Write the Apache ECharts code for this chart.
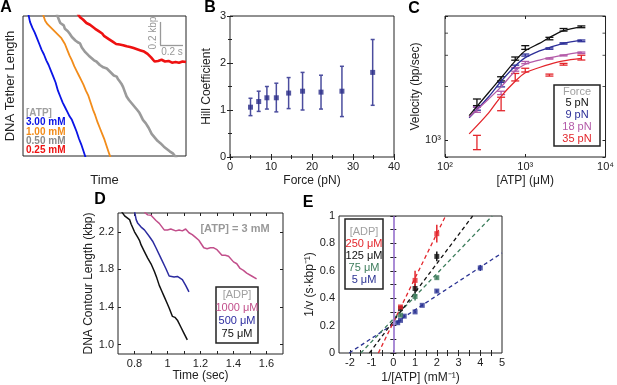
<!DOCTYPE html>
<html>
<head>
<meta charset="utf-8">
<script src="https://cdn.jsdelivr.net/npm/echarts@6/dist/echarts.min.js"></script>
<style>
  html, body { margin: 0; padding: 0; background: #fff; }
  #main { width: 617px; height: 385px; }
</style>
</head>
<body>
<div id="main"></div>
<script>
// ---- A: tether traces, time (s) vs length (kbp) ----
var traceA_3mM = [[0.045,1.22],[0.06,1.15],[0.07,1.14],[0.08,1.10],[0.10,1.06],[0.12,1.01],[0.13,1.00],[0.14,0.96],[0.16,0.91],[0.18,0.87],[0.20,0.82],[0.22,0.78],[0.24,0.73],[0.26,0.68],[0.28,0.63],[0.30,0.56],[0.32,0.51],[0.34,0.46],[0.36,0.42],[0.38,0.38],[0.40,0.34],[0.42,0.31],[0.43,0.30],[0.44,0.26],[0.46,0.21],[0.48,0.15],[0.50,0.10],[0.52,0.04],[0.54,-0.02]];
var traceA_1mM = [[0.17,1.22],[0.19,1.16],[0.21,1.13],[0.24,1.10],[0.27,1.07],[0.30,1.04],[0.33,1.01],[0.36,0.96],[0.38,0.91],[0.40,0.86],[0.42,0.82],[0.44,0.77],[0.46,0.73],[0.48,0.69],[0.50,0.65],[0.52,0.61],[0.54,0.56],[0.56,0.52],[0.58,0.46],[0.60,0.40],[0.62,0.35],[0.64,0.29],[0.66,0.24],[0.68,0.19],[0.70,0.14],[0.72,0.08],[0.74,0.02],[0.755,-0.02]];
var traceA_05mM = [[0.29,1.22],[0.30,1.19],[0.31,1.18],[0.32,1.14],[0.33,1.15],[0.35,1.12],[0.36,1.09],[0.37,1.08],[0.385,1.07],[0.40,1.05],[0.42,1.02],[0.435,1.01],[0.45,0.99],[0.47,0.975],[0.49,0.965],[0.505,0.93],[0.52,0.92],[0.535,0.89],[0.55,0.88],[0.565,0.86],[0.58,0.85],[0.61,0.82],[0.63,0.81],[0.645,0.795],[0.66,0.78],[0.675,0.77],[0.69,0.76],[0.72,0.75],[0.735,0.735],[0.75,0.72],[0.765,0.71],[0.78,0.69],[0.805,0.68],[0.815,0.66],[0.83,0.64],[0.845,0.62],[0.86,0.59],[0.875,0.55],[0.89,0.51],[0.90,0.505],[0.91,0.48],[0.935,0.45],[0.945,0.445],[0.96,0.42],[0.985,0.39],[1.00,0.37],[1.01,0.35],[1.03,0.31],[1.04,0.305],[1.055,0.28],[1.08,0.24],[1.09,0.225],[1.105,0.19],[1.13,0.16],[1.155,0.13],[1.18,0.11],[1.21,0.08],[1.235,0.06],[1.26,0.04],[1.29,0.02],[1.32,-0.02]];
var traceA_025mM = [[0.47,1.22],[0.49,1.19],[0.50,1.18],[0.515,1.17],[0.53,1.16],[0.545,1.14],[0.56,1.13],[0.575,1.125],[0.59,1.11],[0.62,1.09],[0.635,1.085],[0.65,1.07],[0.68,1.05],[0.695,1.03],[0.71,1.02],[0.74,1.00],[0.755,0.995],[0.77,0.98],[0.80,0.96],[0.83,0.955],[0.845,0.945],[0.86,0.95],[0.89,0.94],[0.92,0.935],[0.935,0.93],[0.95,0.925],[0.98,0.915],[1.01,0.905],[1.04,0.895],[1.055,0.89],[1.07,0.875],[1.10,0.845],[1.115,0.83],[1.13,0.81],[1.16,0.815],[1.19,0.825],[1.205,0.815],[1.22,0.81],[1.25,0.815],[1.28,0.80],[1.31,0.805],[1.34,0.80],[1.37,0.81],[1.40,0.805]];
var scaleBarA = [[1.177, 1.149], [1.177, 0.951], [1.374, 0.951]];

// ---- B: Hill coefficient vs force ----
var forceB = [5, 7, 9, 11.3, 14.3, 17.7, 22.2, 27.3, 34.8];
var hillB = [1.06, 1.18, 1.26, 1.26, 1.36, 1.40, 1.38, 1.40, 1.80];
var hillLo = [0.88, 0.97, 1.02, 0.96, 1.03, 1.00, 1.02, 0.86, 1.10];
var hillHi = [1.25, 1.40, 1.50, 1.57, 1.69, 1.80, 1.74, 1.93, 2.50];

// ---- C: velocity vs [ATP] ----
var atpC = [250, 500, 750, 1000, 2000, 3000, 5000];
var vel5 = [1630, 2210, 2875, 3320, 3730, 4180, 4345];
var err5 = [70, 60, 60, 80, 60, 70, 50];
var vel9 = [1500, 2050, 2590, 3010, 3275, 3500, 3620];
var err9 = [30, 60, 50, 40, 30, 30, 40];
var vel18 = [1480, 1840, 2500, 2730, 2875, 2995, 3100];
var err18 = [50, 40, 60, 40, 20, 20, 30];
var vel35 = [970, 1600, 2260, 2475, 2320, 2670, 2912];
var err35 = [90, 140, 110, 60, 30, 30, 90];
var fitAtpC = [200, 350, 500, 750, 1000, 1500, 2000, 3000, 5000];
var fit5 = [1370, 1850, 2240, 2790, 3180, 3500, 3780, 4130, 4345];
var fit9 = [1330, 1750, 2140, 2610, 2910, 3175, 3320, 3500, 3650];
var fit18 = [1345, 1700, 1990, 2445, 2670, 2820, 2910, 3010, 3130];
var fit35 = [1080, 1420, 1760, 2140, 2390, 2560, 2670, 2790, 2880];
var minorTicksC = [2000, 3000, 4000];

// ---- D: contour length vs time ----
var traceD_75 = [[0.72,2.42],[0.74,2.37],[0.75,2.36],[0.77,2.33],[0.78,2.28],[0.79,2.26],[0.80,2.20],[0.82,2.14],[0.83,2.11],[0.84,2.06],[0.86,1.99],[0.88,1.92],[0.89,1.90],[0.90,1.86],[0.92,1.78],[0.935,1.71],[0.95,1.63],[0.965,1.57],[0.98,1.51],[0.995,1.45],[1.01,1.39],[1.03,1.30],[1.045,1.29],[1.06,1.26],[1.08,1.19],[1.10,1.12],[1.12,1.05]];
var traceD_500 = [[0.80,2.42],[0.81,2.33],[0.82,2.29],[0.84,2.25],[0.85,2.24],[0.86,2.22],[0.89,2.15],[0.91,2.10],[0.92,2.08],[0.93,2.03],[0.96,1.92],[0.99,1.81],[1.01,1.73],[1.04,1.72],[1.06,1.725],[1.07,1.74],[1.09,1.69],[1.11,1.63],[1.13,1.56]];
var traceD_1000 = [[0.86,2.41],[0.88,2.38],[0.90,2.375],[0.91,2.36],[0.93,2.32],[0.95,2.29],[0.98,2.22],[1.00,2.22],[1.02,2.23],[1.05,2.21],[1.07,2.22],[1.09,2.21],[1.11,2.23],[1.13,2.19],[1.15,2.17],[1.17,2.14],[1.19,2.11],[1.22,2.03],[1.24,2.02],[1.26,2.03],[1.28,2.03],[1.30,2.01],[1.33,1.95],[1.35,1.95],[1.37,1.94],[1.40,1.88],[1.42,1.86],[1.44,1.81],[1.46,1.79],[1.48,1.76],[1.51,1.73],[1.54,1.70]];

// ---- E: double reciprocal ----
var red250X = [0.33, 1, 2], red250Y = [0.336, 0.53, 0.871], red250Err = [0.01, 0.07, 0.065];
var blk125X = [0.33, 1, 2], blk125Y = [0.324, 0.471, 0.705], blk125Err = [0.01, 0.035, 0.035];
var grn75X = [0.33, 1, 2], grn75Y = [0.276, 0.412, 0.55], grn75Err = [0.01, 0.028, 0.012];
var blu5X = [0.2, 0.33, 0.5, 1, 1.33, 2, 4];
var blu5Y = [0.221, 0.238, 0.269, 0.30, 0.348, 0.452, 0.621];
var blu5Err = [0.008, 0.008, 0.008, 0.008, 0.008, 0.01, 0.022];
var fitRedE = [[-0.69, 0], [2.4, 1]];
var fitBlkE = [[-1.1, 0], [3.65, 1]];
var fitGrnE = [[-1.5, 0], [4.55, 1]];
var fitBluE = [[-2.03, 0], [5, 0.73]];

var FONT = 'Liberation Sans, Arial, Helvetica, sans-serif';
var INK = '#222';

var chart = echarts.init(document.getElementById('main'));

function ax(extra) {
  return echarts.util.merge({
    type: 'value',
    axisLine: { show: false },
    splitLine: { show: false },
    axisTick: { inside: true, length: 3, lineStyle: { color: INK } },
    axisLabel: { color: INK, fontSize: 11, fontFamily: FONT, margin: 4 },
    nameLocation: 'middle',
    nameTextStyle: { color: INK, fontSize: 12, fontFamily: FONT }
  }, extra, true);
}
function mirror(extra) {
  return ax(echarts.util.merge({ axisLabel: { show: false } }, extra, true));
}
function line(xi, yi, pts, color, w, extra) {
  return echarts.util.merge({
    type: 'line', xAxisIndex: xi, yAxisIndex: yi, data: pts,
    symbol: 'none', lineStyle: { color: color, width: w }, clip: true
  }, extra || {}, true);
}
function pairs(xs, ys) {
  return xs.map(function (x, i) { return [x, ys[i]]; });
}
function errBars(xi, yi, xs, lo, hi, color, cap, w) {
  return {
    type: 'custom', xAxisIndex: xi, yAxisIndex: yi, z: 3,
    data: xs.map(function (x, i) { return [x, lo[i], hi[i]]; }),
    encode: { x: 0, y: [1, 2] },
    renderItem: function (params, api) {
      var a = api.coord([api.value(0), api.value(1)]);
      var b = api.coord([api.value(0), api.value(2)]);
      var st = { stroke: color, lineWidth: w };
      return { type: 'group', children: [
        { type: 'line', shape: { x1: a[0], y1: a[1], x2: b[0], y2: b[1] }, style: st },
        { type: 'line', shape: { x1: a[0] - cap, y1: a[1], x2: a[0] + cap, y2: a[1] }, style: st },
        { type: 'line', shape: { x1: b[0] - cap, y1: b[1], x2: b[0] + cap, y2: b[1] }, style: st }
      ]};
    }
  };
}
function withErr(xs, ys, es, sign) {
  return xs.map(function (x, i) { return ys[i] + sign * es[i]; });
}
function squares(xi, yi, xs, ys, color, size) {
  return { type: 'scatter', xAxisIndex: xi, yAxisIndex: yi, data: pairs(xs, ys),
    symbol: 'rect', symbolSize: size, itemStyle: { color: color }, z: 4 };
}
function txt(x, y, s, color, size, extra) {
  return echarts.util.merge({
    type: 'text', x: x, y: y, z: 100,
    style: { text: s, fill: color, font: (size || 11) + 'px ' + FONT, align: 'center', verticalAlign: 'middle' }
  }, extra || {}, true);
}
function box(x, y, w, h) {
  return { type: 'rect', z: 99, shape: { x: x, y: y, width: w, height: h },
    style: { fill: '#fff', stroke: '#222', lineWidth: 1.5 } };
}

var supMap = { 2: '10²', 3: '10³', 4: '10⁴' };
function logLabel(v) { return supMap[Math.round(Math.log10(v))] || ''; }

var C_BLK = '#111', C_BLU = '#2d2f98', C_PNK = '#b35aa8', C_RED = '#e3262c';
var GRAY = '#a0a0a0';

var option = {
  animation: false,
  backgroundColor: '#fff',
  grid: [
    { left: 23, top: 16, width: 163, height: 140 },
    { left: 230, top: 16, width: 164, height: 141 },
    { left: 445, top: 16, width: 162, height: 141 },
    { left: 118, top: 213, width: 165, height: 141 },
    { left: 339, top: 216, width: 163, height: 140 }
  ].map(function (g) {
    return Object.assign({ show: true, borderColor: INK, borderWidth: 1, backgroundColor: 'transparent' }, g);
  }),
  xAxis: [
    ax({ gridIndex: 0, min: 0, max: 1.4, axisTick: { show: false }, axisLabel: { show: false },
         name: 'Time', nameGap: 18, nameTextStyle: { fontSize: 13 } }),
    ax({ gridIndex: 1, min: 0, max: 40, interval: 10, minorTick: { show: true, splitNumber: 2, length: 2, lineStyle: { color: INK } },
         name: 'Force (pN)', nameGap: 18 }),
    mirror({ gridIndex: 1, position: 'top', min: 0, max: 40, interval: 10, minorTick: { show: true, splitNumber: 2, length: 2, lineStyle: { color: INK } } }),
    ax({ gridIndex: 2, type: 'log', logBase: 10, min: 100, max: 10000, axisLabel: { formatter: logLabel },
         name: '[ATP] (μM)', nameGap: 18 }),
    mirror({ gridIndex: 2, type: 'log', logBase: 10, position: 'top', min: 100, max: 10000 }),
    ax({ gridIndex: 3, min: 0.7, max: 1.7,
         axisLabel: { customValues: [0.8, 1, 1.2, 1.4, 1.6], formatter: function (v) { return v === 1 ? '1' : v.toFixed(1); } },
         axisTick: { customValues: [0.8, 0.9, 1, 1.1, 1.2, 1.3, 1.4, 1.5, 1.6] },
         name: 'Time (sec)', nameGap: 16 }),
    mirror({ gridIndex: 3, position: 'top', min: 0.7, max: 1.7, axisTick: { customValues: [0.8, 0.9, 1, 1.1, 1.2, 1.3, 1.4, 1.5, 1.6] } }),
    ax({ gridIndex: 4, min: -2.5, max: 5,
         axisLabel: { customValues: [-2, -1, 0, 1, 2, 3, 4, 5] },
         axisTick: { customValues: [-2, -1.5, -1, -0.5, 0, 0.5, 1, 1.5, 2, 2.5, 3, 3.5, 4, 4.5] },
         name: '1/[ATP] (mM⁻¹)', nameGap: 19 }),
    mirror({ gridIndex: 4, position: 'top', min: -2.5, max: 5,
         axisTick: { customValues: [-2, -1.5, -1, -0.5, 0, 0.5, 1, 1.5, 2, 2.5, 3, 3.5, 4, 4.5] } })
  ],
  yAxis: [
    ax({ gridIndex: 0, min: 0, max: 1.2, axisTick: { show: false }, axisLabel: { show: false },
         name: 'DNA Tether Length', nameGap: 6, nameTextStyle: { fontSize: 13 } }),
    ax({ gridIndex: 1, min: 0, max: 3, interval: 1, minorTick: { show: true, splitNumber: 2, length: 2, lineStyle: { color: INK } },
         name: 'Hill Coefficient', nameGap: 17 }),
    mirror({ gridIndex: 1, position: 'right', min: 0, max: 3, interval: 1, minorTick: { show: true, splitNumber: 2, length: 2, lineStyle: { color: INK } } }),
    ax({ gridIndex: 2, type: 'log', logBase: 10, min: 800, max: 5000,
         axisLabel: { formatter: function (v) { return Math.abs(v - 1000) < 1 ? '10³' : ''; } },
         name: 'Velocity (bp/sec)', nameGap: 19 }),
    mirror({ gridIndex: 2, type: 'log', logBase: 10, position: 'right', min: 800, max: 5000 }),
    ax({ gridIndex: 3, min: 0.9, max: 2.4,
         axisLabel: { customValues: [1.0, 1.4, 1.8, 2.2], formatter: function (v) { return v.toFixed(1); } },
         axisTick: { customValues: [1.0, 1.4, 1.8, 2.2] },
         name: 'DNA Contour Length (kbp)', nameGap: 20 }),
    mirror({ gridIndex: 3, position: 'right', min: 0.9, max: 2.4, axisTick: { customValues: [1.0, 1.4, 1.8, 2.2] } }),
    ax({ gridIndex: 4, min: 0, max: 1, interval: 0.2, minorTick: { show: true, splitNumber: 2, length: 3, lineStyle: { color: INK } },
         name: '1/v (s·kbp⁻¹)', nameGap: 23 }),
    mirror({ gridIndex: 4, position: 'right', min: 0, max: 1, interval: 0.2, minorTick: { show: true, splitNumber: 2, length: 3, lineStyle: { color: INK } } })
  ],
  series: [
    // A
    line(0, 0, traceA_3mM, '#0a14e6', 1.8),
    line(0, 0, traceA_1mM, '#f28c1a', 1.8),
    line(0, 0, traceA_05mM, '#9a9a9a', 2.6),
    line(0, 0, traceA_025mM, '#ee1111', 2.6, {
      markLine: {
        silent: true, symbol: 'none', label: { show: false },
        lineStyle: { color: '#999', width: 1.3, type: 'solid' },
        data: [
          [{ coord: scaleBarA[0] }, { coord: scaleBarA[1] }],
          [{ coord: scaleBarA[1] }, { coord: scaleBarA[2] }]
        ]
      }
    }),
    // B
    errBars(1, 1, forceB, hillLo, hillHi, '#4b4d9e', 2, 1.5),
    squares(1, 1, forceB, hillB, '#2b2d88', 5),
    // C
    line(3, 3, pairs(fitAtpC, fit5), C_BLK, 1.3, { smooth: 0.3 }),
    line(3, 3, pairs(fitAtpC, fit9), C_BLU, 1.3, { smooth: 0.3 }),
    line(3, 3, pairs(fitAtpC, fit18), C_PNK, 1.3, { smooth: 0.3 }),
    line(3, 3, pairs(fitAtpC, fit35), C_RED, 1.3, { smooth: 0.3 }),
    errBars(3, 3, atpC, withErr(atpC, vel5, err5, -1), withErr(atpC, vel5, err5, 1), C_BLK, 4, 1.3),
    errBars(3, 3, atpC, withErr(atpC, vel9, err9, -1), withErr(atpC, vel9, err9, 1), C_BLU, 4, 1.3),
    errBars(3, 3, atpC, withErr(atpC, vel18, err18, -1), withErr(atpC, vel18, err18, 1), C_PNK, 4, 1.3),
    errBars(3, 3, atpC, withErr(atpC, vel35, err35, -1), withErr(atpC, vel35, err35, 1), C_RED, 4, 1.3),
    { type: 'scatter', xAxisIndex: 3, yAxisIndex: 3, symbol: 'rect', symbolSize: [3, 1], symbolOffset: [1.5, 0],
      data: minorTicksC.map(function (v) { return [100, v]; }), itemStyle: { color: INK } },
    { type: 'scatter', xAxisIndex: 3, yAxisIndex: 3, symbol: 'rect', symbolSize: [3, 1], symbolOffset: [-1.5, 0],
      data: minorTicksC.map(function (v) { return [10000, v]; }), itemStyle: { color: INK } },
    // D
    line(5, 5, traceD_75, '#111', 1.5),
    line(5, 5, traceD_500, '#2c2ca0', 1.5),
    line(5, 5, traceD_1000, '#c24f8b', 1.5),
    // E
    line(7, 7, fitBluE, '#2b3393', 1.3, { lineStyle: { type: [4, 3] } }),
    line(7, 7, fitGrnE, '#3d7d5c', 1.3, { lineStyle: { type: [4, 3] } }),
    line(7, 7, fitBlkE, '#111', 1.3, { lineStyle: { type: [4, 3] } }),
    line(7, 7, fitRedE, '#e3262c', 1.3, { lineStyle: { type: [4, 3] },
      markLine: { silent: true, symbol: 'none', label: { show: false },
        lineStyle: { color: '#8e66c8', width: 1.5, type: 'solid' }, data: [{ xAxis: 0 }] } }),
    errBars(7, 7, blu5X, withErr(blu5X, blu5Y, blu5Err, -1), withErr(blu5X, blu5Y, blu5Err, 1), '#2b3393', 0, 1.5),
    errBars(7, 7, grn75X, withErr(grn75X, grn75Y, grn75Err, -1), withErr(grn75X, grn75Y, grn75Err, 1), '#3d7d5c', 0, 1.5),
    errBars(7, 7, blk125X, withErr(blk125X, blk125Y, blk125Err, -1), withErr(blk125X, blk125Y, blk125Err, 1), '#111', 0, 1.5),
    errBars(7, 7, red250X, withErr(red250X, red250Y, red250Err, -1), withErr(red250X, red250Y, red250Err, 1), '#e3262c', 0, 1.5),
    squares(7, 7, blu5X, blu5Y, '#2b3393', 5),
    squares(7, 7, grn75X, grn75Y, '#3d7d5c', 5),
    squares(7, 7, blk125X, blk125Y, '#111', 5),
    squares(7, 7, red250X, red250Y, '#e3262c', 5)
  ],
  graphic: [
    // panel letters
    txt(6, 8, 'A', '#000', 16, { style: { font: 'bold 16px ' + FONT } }),
    txt(210, 8, 'B', '#000', 16, { style: { font: 'bold 16px ' + FONT } }),
    txt(414, 9, 'C', '#000', 16, { style: { font: 'bold 16px ' + FONT } }),
    txt(100, 200, 'D', '#000', 16, { style: { font: 'bold 16px ' + FONT } }),
    txt(308, 203, 'E', '#000', 16, { style: { font: 'bold 16px ' + FONT } }),
    // A annotations
    txt(26, 113, '[ATP]', GRAY, 10, { style: { align: 'left', font: 'bold 10px ' + FONT } }),
    txt(26, 122, '3.00 mM', '#0a14e6', 10, { style: { align: 'left', font: 'bold 10px ' + FONT } }),
    txt(26, 132, '1.00 mM', '#f28c1a', 10, { style: { align: 'left', font: 'bold 10px ' + FONT } }),
    txt(26, 141, '0.50 mM', '#8a8a8a', 10, { style: { align: 'left', font: 'bold 10px ' + FONT } }),
    txt(26, 150, '0.25 mM', '#ee1111', 10, { style: { align: 'left', font: 'bold 10px ' + FONT } }),
    txt(153, 33, '0.2 kbp', '#999', 10, { rotation: Math.PI / 2 }),
    txt(172, 52, '0.2 s', '#999', 10),
    // C legend
    box(554, 85, 46, 61),
    txt(577, 92, 'Force', GRAY, 11),
    txt(577, 103, '5 pN', C_BLK, 11),
    txt(577, 115, '9 pN', C_BLU, 11),
    txt(577, 127, '18 pN', C_PNK, 11),
    txt(577, 139, '35 pN', C_RED, 11),
    // D legend
    txt(235, 229, '[ATP] = 3 mM', '#999', 11, { style: { font: 'bold 11px ' + FONT } }),
    box(216, 287, 42, 56),
    txt(237, 295, '[ADP]', GRAY, 11),
    txt(237, 308, '1000 μM', '#c24f8b', 11),
    txt(237, 321, '500 μM', '#2c2ca0', 11),
    txt(237, 334, '75 μM', '#111', 11),
    // E legend
    box(345, 219, 38, 70),
    txt(364, 232, '[ADP]', GRAY, 11),
    txt(364, 244, '250 μM', '#e3262c', 11),
    txt(364, 256, '125 μM', '#111', 11),
    txt(364, 268, '75 μM', '#3d7d5c', 11),
    txt(364, 280, '5 μM', '#2b3393', 11)
  ]
};

chart.setOption(option);
</script>
</body>
</html>
